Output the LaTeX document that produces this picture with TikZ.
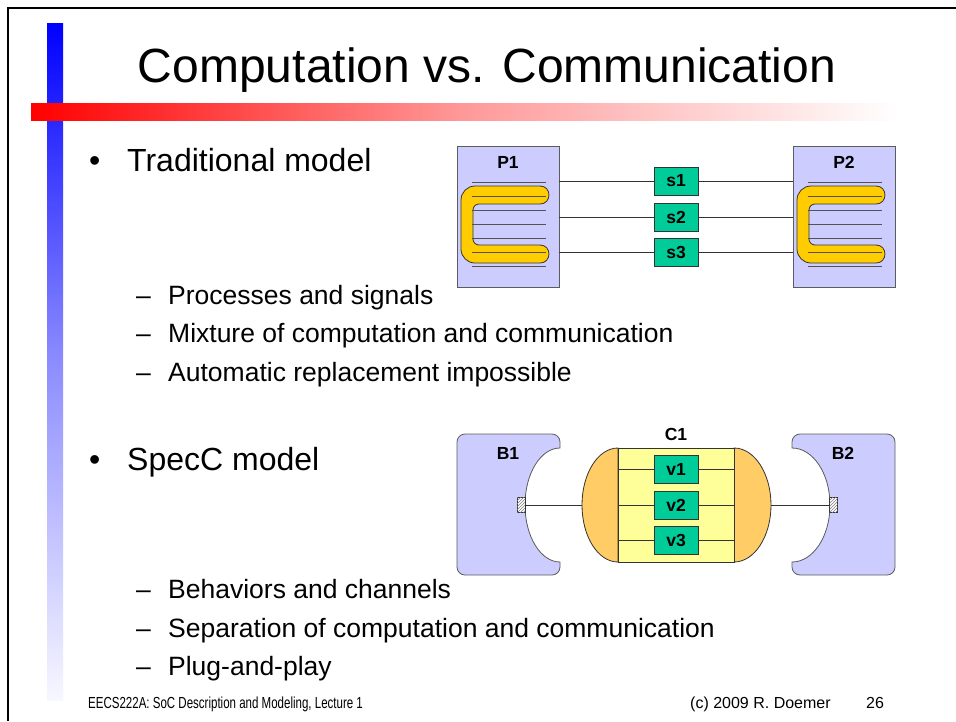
\documentclass[tikz,border=0pt]{standalone}
\usepackage{fontspec}
\setmainfont{Liberation Sans}
\usepackage{tikz}
\usetikzlibrary{positioning,patterns}

\definecolor{lavender}{HTML}{CCCCFF}
\definecolor{sigteal}{HTML}{00CC99}
\definecolor{cgold}{HTML}{FFCC00}
\definecolor{capor}{HTML}{FFCC66}
\definecolor{chyel}{HTML}{FFFF99}
\definecolor{edge}{HTML}{333333}

\tikzset{
  proc/.style={draw=edge!80, fill=lavender, minimum width=102pt, minimum height=141pt, inner sep=0pt, outer sep=0pt},
  sig/.style={draw=edge, fill=sigteal, minimum width=44pt, minimum height=28pt, inner sep=0pt, outer sep=0pt, font=\bfseries\fontsize{17.5}{18}\selectfont},
  lbl/.style={inner sep=0pt, font=\bfseries\fontsize{17.5}{18}\selectfont},
  port/.style={draw=edge, fill=white, postaction={pattern=north east lines, pattern color=gray}, minimum width=8pt, minimum height=15pt, inner sep=0pt, outer sep=0pt},
  chanmid/.style={draw=edge, fill=chyel, minimum width=116pt, minimum height=114pt, inner sep=0pt, outer sep=0pt},
  wire/.style={draw=edge, line width=0.8pt},
  bhv/.style={draw=edge!80, fill=lavender, line width=0.8pt},
  bullet/.style={anchor=base west, inner sep=0pt, font=\fontsize{32}{36}\selectfont},
  subitem/.style={anchor=base west, inner sep=0pt, font=\fontsize{26.5}{30}\selectfont},
  foot/.style={anchor=base west, inner sep=0pt, font=\fontsize{16}{18}\selectfont}
}

\begin{document}
\begin{tikzpicture}[x=1pt, y=-1pt]
\useasboundingbox (0,0) rectangle (956,721);
\fill[white] (0,0) rectangle (956,721);

% slide decoration
\draw[line width=2pt] (956,8) -- (8,8) -- (8,721);
\shade[top color=blue, bottom color=blue!3, middle color=blue!45] (47,23) rectangle (63,700);
\shade[left color=red, right color=white, middle color=red!40] (31,103) rectangle (897,120);

\node[anchor=base, inner sep=0pt, font=\fontsize{48}{56}\selectfont] (title) at (487,82) {Computation vs. Communication};

% text
\node[bullet] (trad) at (89,171) {\makebox[38pt][l]{•}Traditional model};
\node[subitem] (it1) at (136,304) {\makebox[32pt][l]{–}Processes and signals};
\node[subitem] (it2) at (136,342.5) {\makebox[32pt][l]{–}Mixture of computation and communication};
\node[subitem] (it3) at (136,381) {\makebox[32pt][l]{–}Automatic replacement impossible};
\node[bullet] (specc) at (89,470) {\makebox[38pt][l]{•}SpecC model};
\node[subitem] (it4) at (136,598.5) {\makebox[32pt][l]{–}Behaviors and channels};
\node[subitem] (it5) at (136,637) {\makebox[32pt][l]{–}Separation of computation and communication};
\node[subitem] (it6) at (136,675.5) {\makebox[32pt][l]{–}Plug-and-play};

\node[foot] (lect) at (88,708) {\scalebox{0.72}[1]{EECS222A: SoC Description and Modeling, Lecture 1}};
\node[foot] (copy) at (690,708) {(c) 2009 R. Doemer};
\node[foot] (page) at (866,708) {26};

% traditional model
\node[proc] (P1) at (508,216.5) {};
\node[proc] (P2) at (844,216.5) {};
\node[lbl, below=10pt of P1.north] (P1lbl) {P1};
\node[lbl, below=10pt of P2.north] (P2lbl) {P2};
\foreach \px in {457,793} {
  \filldraw[fill=cgold, draw=edge, line width=0.8pt]
    (\px+83,186) [rounded corners=14pt] -- (\px+4,186) -- (\px+4,263) [sharp corners] -- (\px+83,263)
    to[out=0, in=0, looseness=1.7] (\px+83,245) [rounded corners=6pt] -- (\px+16,245) -- (\px+16,204) [sharp corners] -- (\px+83,204)
    to[out=0, in=0, looseness=1.7] (\px+83,186) -- cycle;
  \foreach \ly in {182,196,210,224,238,252,266}
    \draw[edge!85, line width=0.8pt] (\px+15,\ly) -- (\px+89,\ly);
}
\node[sig] (s1) at (676,181) {s1};
\node[sig, below=8pt of s1] (s2) {s2};
\node[sig, below=7pt of s2] (s3) {s3};
\foreach \s in {s1,s2,s3} {
  \draw[wire] (P1.east |- \s.west) -- (\s.west);
  \draw[wire] (\s.east) -- (P2.west |- \s.east);
}

% SpecC model
\filldraw[bhv] (560,448) [rounded corners=8pt] -- (560,434) -- (457,434) -- (457,575) -- (560,575) [sharp corners] -- (560,562)
  .. controls (540.7,562) and (525,536.5) .. (525,505) .. controls (525,473.5) and (540.7,448) .. (560,448) -- cycle;
\filldraw[bhv] (792,448) [rounded corners=8pt] -- (792,434) -- (895,434) -- (895,575) -- (792,575) [sharp corners] -- (792,562)
  .. controls (813,562) and (830,536.5) .. (830,505) .. controls (830,473.5) and (813,448) .. (792,448) -- cycle;
\node[lbl] (B1lbl) at (508,453) {B1};
\node[lbl] (B2lbl) at (843,453) {B2};
\node[port] (p1) at (521,505) {};
\node[port] (p2) at (833.5,505) {};

\filldraw[fill=capor, draw=edge, line width=0.8pt] (618,448) .. controls (598,448) and (582,473.5) .. (582,505)
  .. controls (582,536.5) and (598,562) .. (618,562) -- cycle;
\filldraw[fill=capor, draw=edge, line width=0.8pt] (734,448) .. controls (754.4,448) and (771,473.5) .. (771,505)
  .. controls (771,536.5) and (754.4,562) .. (734,562) -- cycle;
\coordinate (C1l) at (582,505);
\coordinate (C1r) at (771,505);
\node[chanmid, line width=0.8pt] (C1) at (676,505) {};
\node[lbl, above=7pt of C1] (C1lbl) {C1};

\node[sig] (v1) at (676,469) {v1};
\node[sig, below=8pt of v1] (v2) {v2};
\node[sig, below=7pt of v2] (v3) {v3};
\foreach \v in {v1,v2,v3} {
  \draw[wire] (C1.west |- \v.west) -- (\v.west);
  \draw[wire] (\v.east) -- (C1.east |- \v.east);
}
\draw[wire] (p1.east) -- (C1l);
\draw[wire] (C1r) -- (p2.west);
\end{tikzpicture}
\end{document}
